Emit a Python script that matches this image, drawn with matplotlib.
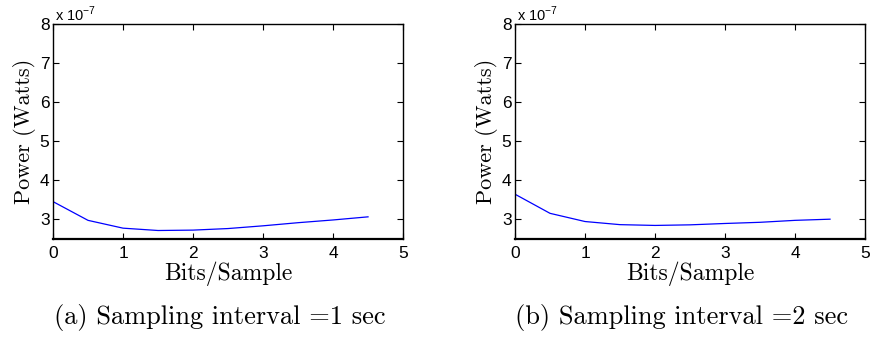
import matplotlib
matplotlib.use("Agg")
import matplotlib.pyplot as plt
from matplotlib.ticker import FuncFormatter

# Bits per sample
bits = [0, 0.5, 1, 1.5, 2, 2.5, 3, 3.5, 4, 4.5]
# Average power (Watts) for each sampling interval
power_1s = [3.45e-7, 2.97e-7, 2.77e-7, 2.71e-7, 2.72e-7, 2.76e-7, 2.83e-7, 2.91e-7, 2.98e-7, 3.06e-7]
power_2s = [3.64e-7, 3.15e-7, 2.94e-7, 2.86e-7, 2.84e-7, 2.855e-7, 2.89e-7, 2.92e-7, 2.97e-7, 3.00e-7]
x_ticks = [0, 1, 2, 3, 4, 5]
y_ticks = [3e-7, 4e-7, 5e-7, 6e-7, 7e-7, 8e-7]
captions = ["(a) Sampling interval =1 sec", "(b) Sampling interval =2 sec"]
scale = 1e-7

fig = plt.figure(figsize=(8.72, 3.41), dpi=100)
serif = "cmr10"
sans = "Liberation Sans"

panels = [
    (0.0608, power_1s, captions[0]),
    (0.5906, power_2s, captions[1]),
]
width = 0.4014
bottom, height = 0.300, 0.6296

for left, power, caption in panels:
    ax = fig.add_axes([left, bottom, width, height])
    ax.plot(bits, power, color="#0000ff", linewidth=0.9)
    ax.set_xlim(0, 5)
    ax.set_ylim(2.5e-7, 8e-7)
    ax.set_xticks(x_ticks)
    ax.set_yticks(y_ticks)
    ax.xaxis.set_major_formatter(FuncFormatter(lambda v, p: f"{v:g}"))
    ax.yaxis.set_major_formatter(FuncFormatter(lambda v, p: f"{v / scale:g}"))
    ax.tick_params(direction="in", top=True, right=True, length=4, width=0.8,
                   labelsize=12.5)
    ax.tick_params(axis="x", pad=5.0)
    ax.tick_params(axis="y", pad=2.5)
    for lab in ax.get_xticklabels() + ax.get_yticklabels():
        lab.set_fontfamily(sans)
    for name, sp in ax.spines.items():
        sp.set_linewidth(1.6 if name == "bottom" else 1.0)
    ax.set_xlabel("Bits/Sample", fontfamily=serif, fontsize=17, labelpad=0.5)
    ax.set_ylabel("Power (Watts)", fontfamily=serif, fontsize=16, labelpad=3)
    ax.text(0.007, 1.0, r"x 10$^{\mathregular{-7}}$", transform=ax.transAxes,
            ha="left", va="bottom", fontfamily=sans, fontsize=10.5)
    fig.text(left + width / 2 - 0.01, 0.07, caption, ha="center", va="center",
             fontfamily=serif, fontsize=19)

fig.savefig("out.png", dpi=100)
